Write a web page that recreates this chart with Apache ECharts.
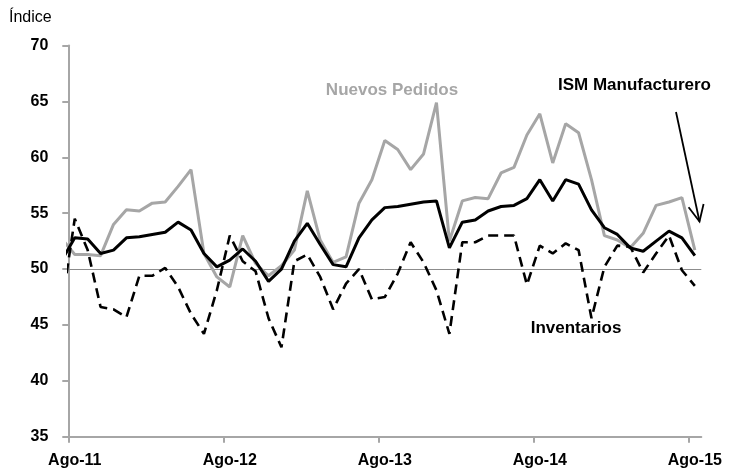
<!DOCTYPE html>
<html>
<head>
<meta charset="utf-8">
<script src="https://cdn.jsdelivr.net/npm/echarts@6/dist/echarts.min.js"></script>
<style>
    html, body { margin: 0; padding: 0; background: #fff; }
    #chart { width: 729px; height: 476px; }
</style>
</head>
<body>
<div id="chart"></div>
<script>
    // meses (jul-11 .. ago-15), el primero queda fuera del eje y solo se ve recortado
    const meses = [
        'Jul-11','Ago-11','Sep-11','Oct-11','Nov-11','Dic-11',
        'Ene-12','Feb-12','Mar-12','Abr-12','May-12','Jun-12','Jul-12','Ago-12','Sep-12','Oct-12','Nov-12','Dic-12',
        'Ene-13','Feb-13','Mar-13','Abr-13','May-13','Jun-13','Jul-13','Ago-13','Sep-13','Oct-13','Nov-13','Dic-13',
        'Ene-14','Feb-14','Mar-14','Abr-14','May-14','Jun-14','Jul-14','Ago-14','Sep-14','Oct-14','Nov-14','Dic-14',
        'Ene-15','Feb-15','Mar-15','Abr-15','May-15','Jun-15','Jul-15','Ago-15'
    ]
    const ism = [50.8,
        52.8, 52.7, 51.4, 51.7, 52.8, 52.9, 53.1, 53.3, 54.2, 53.5, 51.4, 50.2,
        50.8, 51.8, 50.7, 48.9, 50.0, 52.5, 54.1, 52.2, 50.4, 50.2, 52.8, 54.4,
        55.5, 55.6, 55.8, 56.0, 56.1, 51.9, 54.2, 54.4, 55.2, 55.6, 55.7, 56.3,
        58.0, 56.1, 58.0, 57.6, 55.3, 53.7, 53.1, 51.9, 51.6, 52.5, 53.4, 52.8,
        51.2]
    const nuevosPedidos = [52.7,
        51.3, 51.3, 51.2, 54.0, 55.3, 55.2, 55.9, 56.0, 57.4, 58.9, 51.4, 49.3,
        48.4, 53.0, 50.5, 49.4, 50.3, 51.7, 57.0, 52.6, 50.6, 51.1, 55.9, 58.0,
        61.5, 60.7, 58.9, 60.3, 64.9, 52.5, 56.1, 56.4, 56.3, 58.6, 59.1, 62.0,
        63.9, 59.5, 63.0, 62.2, 58.0, 53.0, 52.6, 51.9, 53.2, 55.7, 56.0, 56.4,
        51.7]
    const inventarios = [46.8,
        54.5, 51.7, 46.6, 46.4, 45.7, 49.4, 49.4, 50.1, 48.4, 46.0, 44.2, 48.1,
        53.0, 50.7, 49.8, 45.6, 43.0, 50.7, 51.3, 49.3, 46.4, 48.7, 50.0, 47.3,
        47.5, 49.6, 52.4, 50.6, 48.1, 44.2, 52.4, 52.4, 53.0, 53.0, 53.0, 48.6,
        52.1, 51.4, 52.3, 51.7, 45.6, 50.2, 52.1, 52.0, 49.7, 51.4, 53.0, 49.9,
        48.5]
    const yTicks = [35, 40, 45, 50, 55, 60, 65, 70]

    const font = "'Liberation Sans', Arial, sans-serif"
    const gris = '#a6a6a6'

    // eje x en meses desde el 1-ago-11; cada dato va a mitad de su mes
    const xDe = i => i - 0.5
    const agostos = meses.map((m, i) => m.startsWith('Ago') ? i : -1).filter(i => i >= 0)
    const pares = arr => arr.map((v, i) => [xDe(i), v])

    const chart = echarts.init(document.getElementById('chart'))

    // flecha que señala la serie ISM
    const flechaDe = [676, 112], flechaA = [699.5, 221.5]
    const ang = Math.atan2(flechaDe[1] - flechaA[1], flechaDe[0] - flechaA[0])
    const barb = d => [flechaA[0] + 18 * Math.cos(ang + d), flechaA[1] + 18 * Math.sin(ang + d)]

    chart.setOption({
        animation: false,
        grid: { left: 68.3, right: 27.7, top: 45.6, bottom: 39.3, containLabel: false },
        xAxis: {
            type: 'value',
            min: 0,
            max: meses.length - 1,
            axisLine: { show: true, lineStyle: { color: gris, width: 2 } },
            axisTick: { show: true, length: 6, lineStyle: { color: gris, width: 2 },
                customValues: agostos.map(i => i - 1) },
            axisLabel: {
                customValues: agostos.map(xDe),
                formatter: v => meses[Math.round(v + 0.5)] || '',
                color: '#000', fontWeight: 'bold', fontSize: 16, fontFamily: font, margin: 16
            },
            splitLine: { show: false }
        },
        yAxis: {
            type: 'value',
            min: yTicks[0],
            max: yTicks[yTicks.length - 1],
            interval: 5,
            axisLine: { show: true, lineStyle: { color: gris, width: 2 } },
            axisTick: { show: true, length: 6, lineStyle: { color: gris, width: 2 } },
            axisLabel: { color: '#000', fontWeight: 'bold', fontSize: 16, fontFamily: font, margin: 20 },
            splitLine: { show: false }
        },
        series: [
            {
                name: 'Nuevos Pedidos', type: 'line', data: pares(nuevosPedidos),
                symbol: 'none', clip: true,
                lineStyle: { color: gris, width: 3 },
                markLine: {
                    silent: true, symbol: 'none', z: 1,
                    label: { show: false },
                    lineStyle: { color: '#8c8c8c', width: 1, type: 'solid' },
                    data: [{ yAxis: 50 }]
                }
            },
            {
                name: 'Inventarios', type: 'line', data: pares(inventarios),
                symbol: 'none', clip: true,
                lineStyle: { color: '#000', width: 2.6, type: [10, 6] }
            },
            {
                name: 'ISM Manufacturero', type: 'line', data: pares(ism),
                symbol: 'none', clip: true,
                lineStyle: { color: '#000', width: 3 }
            }
        ],
        graphic: [
            { type: 'text', left: 9, top: 10,
              style: { text: 'Índice', font: `16px ${font}`, fill: '#000' } },
            { type: 'text', x: 392, y: 90,
              style: { text: 'Nuevos Pedidos', font: `bold 17px ${font}`, fill: gris, align: 'center', verticalAlign: 'middle' } },
            { type: 'text', x: 634.5, y: 85,
              style: { text: 'ISM Manufacturero', font: `bold 17px ${font}`, fill: '#000', align: 'center', verticalAlign: 'middle' } },
            { type: 'text', x: 576, y: 328,
              style: { text: 'Inventarios', font: `bold 17px ${font}`, fill: '#000', align: 'center', verticalAlign: 'middle' } },
            { type: 'line', shape: { x1: flechaDe[0], y1: flechaDe[1], x2: flechaA[0], y2: flechaA[1] },
              style: { stroke: '#000', lineWidth: 1.8 } },
            { type: 'polyline', shape: { points: [barb(0.44), flechaA, barb(-0.44)] },
              style: { stroke: '#000', lineWidth: 1.8, fill: null } }
        ]
    })
</script>
</body>
</html>
